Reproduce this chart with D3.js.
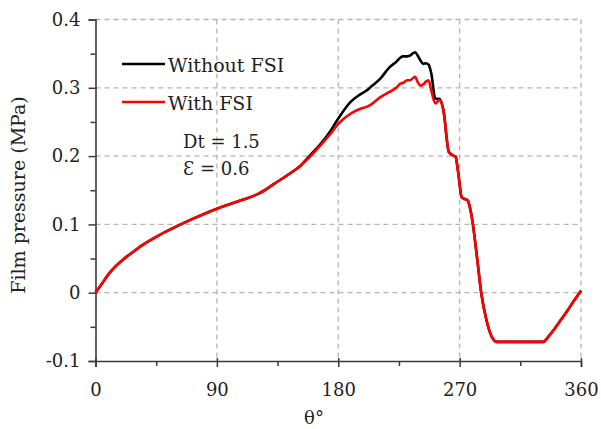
<!DOCTYPE html>
<html>
<head>
<meta charset="utf-8">
<script src="https://cdn.jsdelivr.net/npm/d3@7/dist/d3.min.js"></script>
<style>
  html, body { margin: 0; padding: 0; background: #fff; }
  svg { display: block; font-family: "DejaVu Serif", "Liberation Serif", serif; }
</style>
</head>
<body>
<svg id="chart" width="601" height="429"></svg>
<script>
// Crank angle (degrees)
const theta = [0, 5, 10, 15, 22, 28, 35, 47, 59, 72, 90, 109, 121, 133, 146,
  152, 160, 167, 174, 180, 189, 196, 201, 204, 211, 218, 223, 226, 228, 231, 233,
  237, 239, 241, 243, 245, 247, 249, 252, 255, 258,
  262, 265, 267, 269, 271.5, 274, 276, 279, 283, 286, 290, 294, 297.5,
  332, 336, 340, 345, 350, 355, 360];

// Film pressure (MPa), rigid bearing
const withoutFSI = [0, 0.014, 0.028, 0.039, 0.051, 0.060, 0.070, 0.084, 0.096, 0.108, 0.123, 0.136, 0.145, 0.160, 0.177,
  0.186, 0.203, 0.218, 0.236, 0.255, 0.279, 0.290, 0.296, 0.301, 0.313, 0.330, 0.338, 0.344, 0.346, 0.346, 0.347,
  0.352, 0.347, 0.340, 0.335, 0.336, 0.334, 0.321, 0.284, 0.284, 0.267,
  0.206, 0.201, 0.199, 0.175, 0.140, 0.137, 0.135, 0.111, 0.050, 0.000, -0.041, -0.065, -0.072,
  -0.072, -0.064, -0.054, -0.040, -0.026, -0.011, 0.003];

// Film pressure (MPa), with fluid-structure interaction
const withFSI = [0, 0.014, 0.028, 0.039, 0.051, 0.060, 0.070, 0.084, 0.096, 0.108, 0.123, 0.136, 0.145, 0.160, 0.177,
  0.186, 0.201, 0.216, 0.232, 0.247, 0.262, 0.269, 0.272, 0.275, 0.286, 0.294, 0.300, 0.306, 0.307, 0.311, 0.311,
  0.316, 0.308, 0.303, 0.305, 0.309, 0.311, 0.296, 0.277, 0.282, 0.267,
  0.206, 0.201, 0.199, 0.175, 0.140, 0.137, 0.135, 0.111, 0.050, 0.000, -0.041, -0.065, -0.072,
  -0.072, -0.064, -0.054, -0.040, -0.026, -0.011, 0.003];

const xTicks = [0, 90, 180, 270, 360];
const xMinor = [45, 135, 225, 315];
const yTicks = [-0.1, 0, 0.1, 0.2, 0.3, 0.4];
const yTickLabels = ["-0.1", "0", "0.1", "0.2", "0.3", "0.4"];
const yMinor = [-0.05, 0.05, 0.15, 0.25, 0.35];

const seriesNames = ["Without FSI", "With FSI"];
const seriesColors = ["#000000", "#ff0000"];
const notes = ["Dt = 1.5", "Ɛ = 0.6"];

const svg = d3.select("#chart");
const plotLeft = 95.5, plotRight = 581, plotTop = 19.5, plotBottom = 361;

const x = d3.scaleLinear().domain([0, 360]).range([plotLeft, plotRight]);
const y = d3.scaleLinear().domain([-0.1, 0.4]).range([plotBottom, plotTop]);

// dashed grid
const grid = svg.append("g").attr("stroke", "#b4b4b4").attr("stroke-width", 1.3)
  .attr("stroke-dasharray", "5,4").attr("fill", "none");
yTicks.filter(v => v > -0.1).forEach(v => {
  grid.append("line").attr("x1", plotLeft).attr("x2", plotRight).attr("y1", y(v)).attr("y2", y(v));
});
xTicks.filter(v => v > 0).forEach(v => {
  grid.append("line").attr("x1", x(v)).attr("x2", x(v)).attr("y1", plotTop).attr("y2", plotBottom);
});

// axes
const fmtY = (v, i) => yTickLabels[i];
const yAxis = svg.append("g").attr("transform", `translate(${plotLeft},0)`)
  .call(d3.axisLeft(y).tickValues(yTicks).tickFormat(fmtY).tickSize(7).tickPadding(8));
const yAxisMinor = svg.append("g").attr("transform", `translate(${plotLeft},0)`)
  .call(d3.axisLeft(y).tickValues(yMinor).tickFormat("").tickSize(5));
const xAxis = svg.append("g").attr("transform", `translate(0,${plotBottom})`)
  .call(d3.axisBottom(x).tickValues(xTicks).tickFormat(d3.format("d")).tickSize(6).tickPadding(16));
const xAxisMinor = svg.append("g").attr("transform", `translate(0,${plotBottom})`)
  .call(d3.axisBottom(x).tickValues(xMinor).tickFormat("").tickSize(5));

[yAxis, yAxisMinor, xAxis, xAxisMinor].forEach(g => {
  g.select(".domain").attr("stroke", "#3a3a3a").attr("stroke-width", 1.6);
  g.selectAll(".tick line").attr("stroke", "#3a3a3a").attr("stroke-width", 1.5);
  g.selectAll(".tick text").attr("fill", "#222").attr("font-size", 18)
    .attr("font-family", "DejaVu Serif, serif");
});
yAxisMinor.select(".domain").remove();
xAxisMinor.select(".domain").remove();
// major x ticks cross the axis slightly
xAxis.selectAll(".tick line").attr("y1", -3);

// series
const line = d3.line().x((d, i) => x(theta[i])).y(d => y(d)).curve(d3.curveMonotoneX);
[withoutFSI, withFSI].forEach((vals, k) => {
  svg.append("path").datum(vals).attr("d", line)
    .attr("fill", "none").attr("stroke", seriesColors[k])
    .attr("stroke-width", 2.6).attr("stroke-linejoin", "round");
});

// legend
const legend = svg.append("g");
[64, 102].forEach((ly, k) => {
  legend.append("line").attr("x1", 122).attr("x2", 165).attr("y1", ly).attr("y2", ly)
    .attr("stroke", seriesColors[k]).attr("stroke-width", 2.6);
  legend.append("text").attr("x", 168).attr("y", ly + 8).text(seriesNames[k])
    .attr("font-size", 19).attr("fill", "#222");
});
[148, 175].forEach((ty, k) => {
  svg.append("text").attr("x", 183).attr("y", ty).text(notes[k])
    .attr("font-size", 18).attr("fill", "#222");
});

// axis titles
svg.append("text").attr("x", 314).attr("y", 424).attr("text-anchor", "middle")
  .attr("font-size", 18).attr("fill", "#222").text("θ°");
svg.append("text").attr("transform", "translate(25,195) rotate(-90)")
  .attr("text-anchor", "middle").attr("font-size", 19).attr("fill", "#222")
  .text("Film pressure (MPa)");
</script>
</body>
</html>
